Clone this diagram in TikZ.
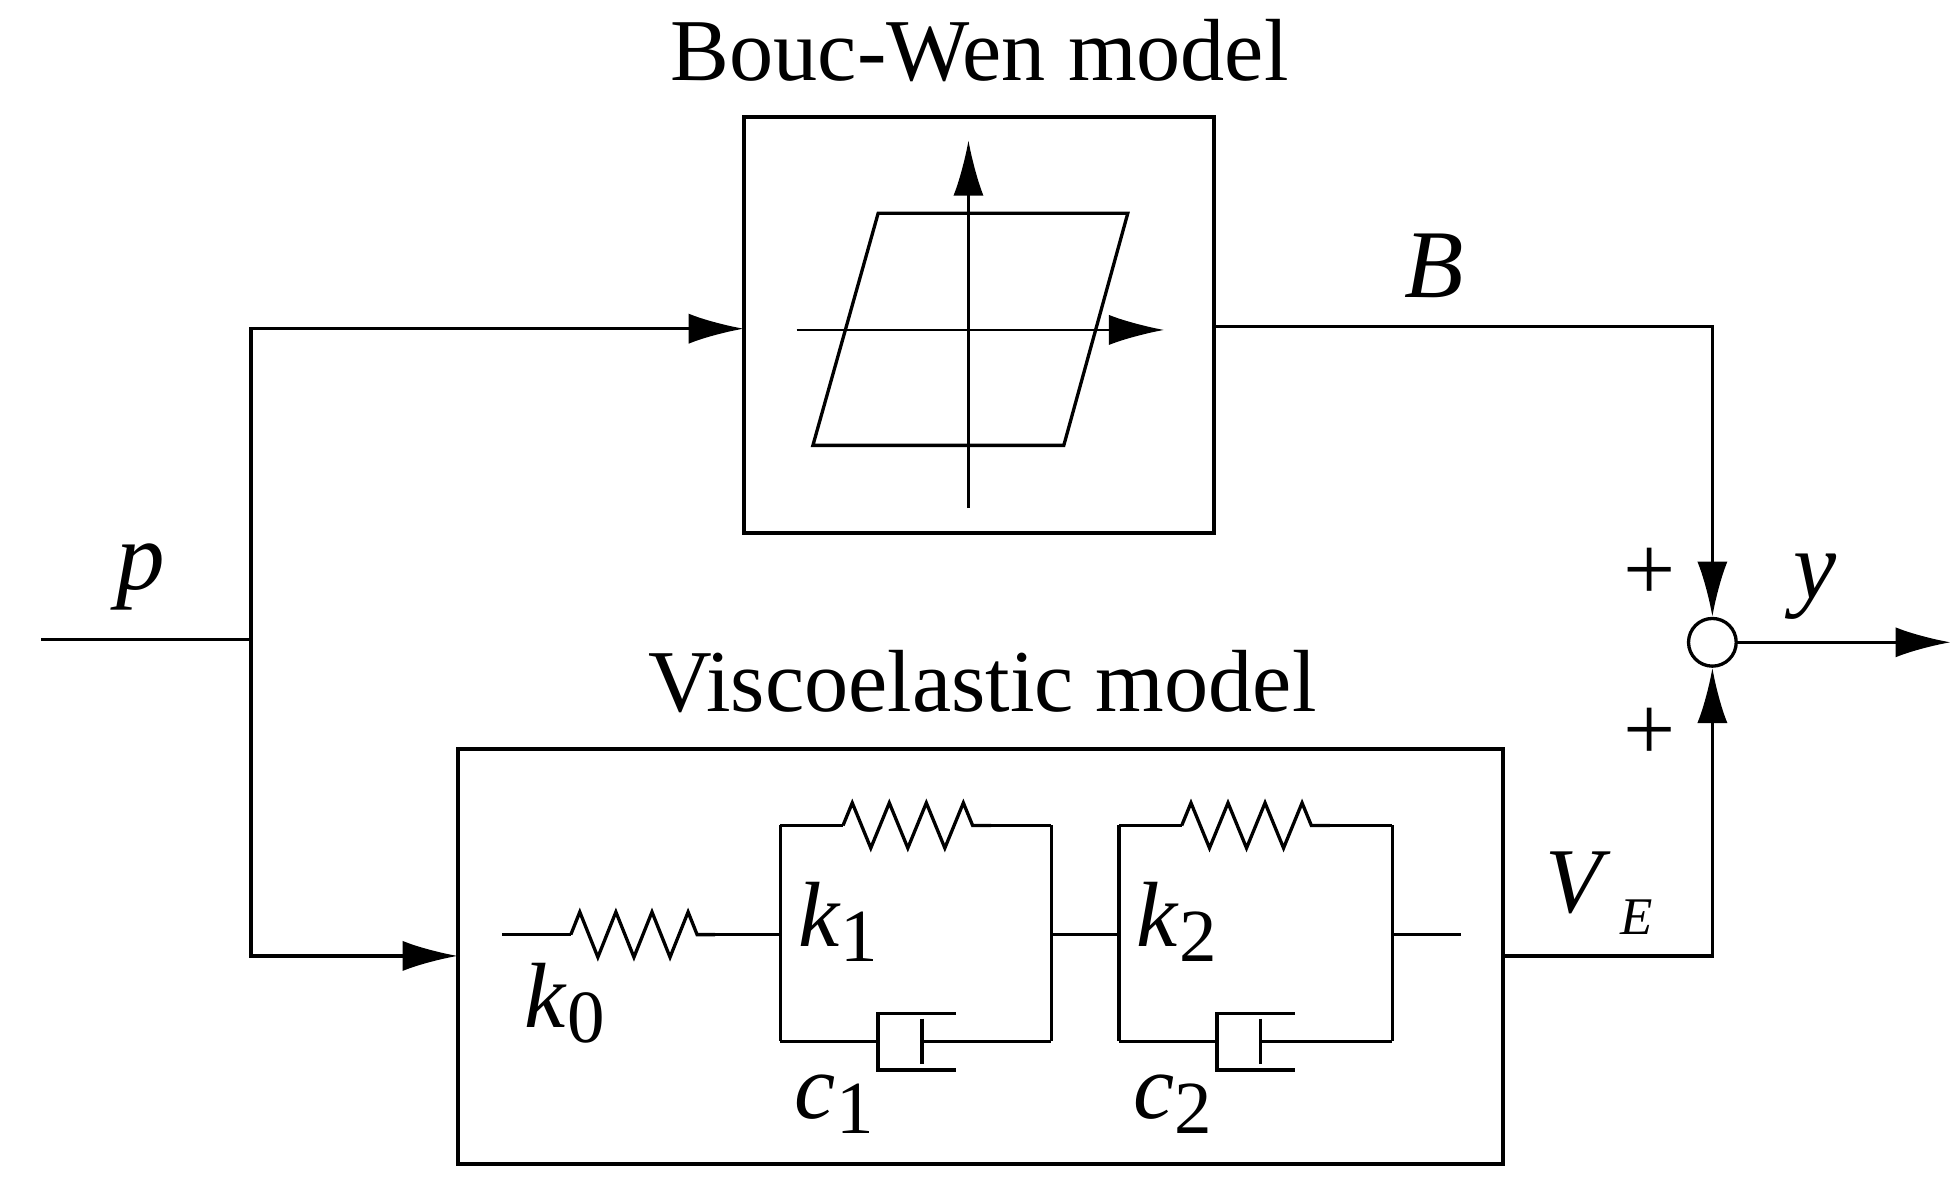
\documentclass[tikz,border=0pt]{standalone}
\usepackage{fontspec}
\setmainfont{Liberation Serif}
\usetikzlibrary{arrows.meta,decorations.pathmorphing}
\newcommand{\sym}[2]{\textit{#1}\raisebox{-0.35ex}{\fontsize{17}{20}\selectfont #2}}
\begin{document}
\begin{tikzpicture}[x=0.01cm,y=-0.01cm,line width=0.75pt,
  arr/.style={-{Latex[length=0.44cm,width=0.24cm]}},
  lbl/.style={font=\fontsize{21}{25}\selectfont},
  ttl/.style={font=\fontsize{20}{24}\selectfont},
  spring/.style={decorate,decoration={zigzag,amplitude=0.18cm,segment length=#1}},
  box/.style={draw,line width=0.9pt}]
\useasboundingbox (0,0) rectangle (1560,945);
% titles
\node[ttl] (t1) at (781,40) {Bouc-Wen model};
\node[ttl] (t2) at (783,543) {Viscoelastic model};
% Bouc-Wen box
\draw[box] (593,93) rectangle (968,425);
\coordinate (bwin) at (593,262);
\coordinate (bwout) at (968,260);
\draw[line width=0.5pt] (772,405) -- (772,145);
\draw[arr,line width=0.5pt] (772,150) -- (772,112);
\draw[line width=0.5pt] (635,263) -- (900,263);
\draw[arr,line width=0.5pt] (890,263) -- (928,263);
\draw (648,355) -- (848,355) -- (899,170) -- (700,170) -- cycle;
% input
\coordinate (in) at (33,510);
\coordinate (br) at (200,510);
\draw (in) -- (br);
\draw[arr] (br) |- (bwin);
\coordinate (vein) at (365,762);
\draw[arr] (br) |- (vein);
\node[lbl,font=\fontsize{22}{26}\selectfont\itshape] (p) at (112,460) {p};
% sum
\node[draw,circle,minimum size=0.38cm,inner sep=0pt,line width=0.75pt] (sum) at (1365,512) {};
\draw[arr] (bwout) -| (sum.north);
\node[lbl,font=\fontsize{22}{26}\selectfont\itshape] (B) at (1143,212) {B};
\node[lbl] (p1) at (1315,458) {+};
\node[lbl] (p2) at (1315,585) {+};
\coordinate (yout) at (1555,512);
\draw[arr] (sum.east) -- (yout);
\node[lbl,font=\fontsize{22}{26}\selectfont\itshape] (y) at (1447,468) {y};
% visco box
\draw[box] (365,597) rectangle (1198,928);
\coordinate (veout) at (1198,762);
\draw[arr] (veout) -| (sum.south);
\node[lbl] (VE) at (1275,712) {\textit{V}\hspace{0.1em}\raisebox{-0.5ex}{\fontsize{12}{14}\selectfont\itshape E}};
% springs/dampers
\draw (400,745) -- (455,745);
\draw[spring=0.2875cm] (455,745) -- (570,745);
\draw (570,745) -- (622,745);
\node[lbl] (k0) at (450,800) {\sym{k}{0}};
\foreach \xl/\xr/\k/\c in {622/838/1/1, 892/1110/2/2}{
  \draw (\xl,658) -- (\xl,830);
  \draw (\xr,658) -- (\xr,830);
  \draw (\xl,658) -- ({\xl+50},658);
  \draw[spring=0.295cm] ({\xl+50},658) -- ({\xl+168},658);
  \draw ({\xl+168},658) -- (\xr,658);
  \draw (\xl,830) -- ({\xl+78},830);
  \draw ({\xl+140},808) -- ({\xl+78},808) -- ({\xl+78},853) -- ({\xl+140},853);
  \draw ({\xl+113},812) -- ({\xl+113},848);
  \draw ({\xl+113},830) -- (\xr,830);
  \node[lbl] at ({\xl+46},735) {\sym{k}{\k}};
  \node[lbl] at ({\xl+43},880) {\sym{c}{\c}};
}
\draw (838,745) -- (892,745);
\draw (1110,745) -- (1165,745);
\end{tikzpicture}
\end{document}
